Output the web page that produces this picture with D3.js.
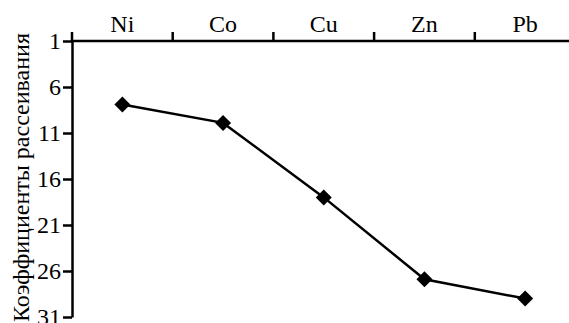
<!DOCTYPE html>
<html>
<head>
<meta charset="utf-8">
<script src="https://cdn.jsdelivr.net/npm/d3@7"></script>
<style>
  body { margin: 0; background: #fff; }
  svg text { font-family: "Liberation Serif", "Times New Roman", serif; fill: #000; }
  .axis path, .axis line { stroke: #000; stroke-width: 2.5; }
</style>
</head>
<body>
<div id="chart"></div>
<script>
// данные
var categories = ["Ni", "Co", "Cu", "Zn", "Pb"];
var values = [7.9, 9.9, 18, 26.9, 29];
var yTicks = [1, 6, 11, 16, 21, 26, 31];
var yTitle = "Коэффициенты рассеивания";

var width = 569, height = 323;
var margin = {top: 41, left: 72, bottom: 6};

var svg = d3.select("#chart").append("svg")
    .attr("width", width).attr("height", height);

var xs = d3.scaleBand().domain(categories).range([margin.left, 575.5]);
var ys = d3.scaleLinear().domain([1, 31]).range([margin.top, height - margin.bottom]);

// eixo X superior (rótulos)
var xAxis = svg.append("g").attr("class", "axis")
    .attr("transform", "translate(0," + margin.top + ")")
    .call(d3.axisTop(xs).tickSize(0).tickSizeOuter(0).tickPadding(9));
xAxis.selectAll("text").style("font-size", "24px");
xAxis.select(".domain").attr("d", "M" + margin.left + ",0H" + width);
// ticks nas fronteiras das categorias
xAxis.selectAll(".bnd").data(categories).enter().append("line")
    .attr("class", "bnd")
    .attr("x1", function(d){ return xs(d); })
    .attr("x2", function(d){ return xs(d); })
    .attr("y1", 0).attr("y2", -9);

// eixo Y
var yAxis = svg.append("g").attr("class", "axis")
    .attr("transform", "translate(" + margin.left + ",0)")
    .call(d3.axisLeft(ys).tickValues(yTicks).tickSize(9).tickSizeOuter(0).tickPadding(2));
yAxis.selectAll("text").style("font-size", "24px");

svg.append("text")
    .attr("transform", "translate(29,177.5) rotate(-90)")
    .attr("text-anchor", "middle")
    .attr("textLength", 289)
    .attr("lengthAdjust", "spacingAndGlyphs")
    .style("font-size", "24px")
    .text(yTitle);

var cx = function(d, i){ return xs(categories[i]) + xs.bandwidth() / 2; };

var line = d3.line()
    .x(function(d, i){ return cx(d, i); })
    .y(function(d){ return ys(d); });

svg.append("path")
    .datum(values)
    .attr("fill", "none")
    .attr("stroke", "#000")
    .attr("stroke-width", 2.5)
    .attr("d", line);

svg.selectAll(".dot").data(values).enter().append("path")
    .attr("class", "dot")
    .attr("d", d3.symbol().type(d3.symbolSquare).size(128))
    .attr("transform", function(d, i){
        return "translate(" + cx(d, i) + "," + ys(d) + ") rotate(45)";
    })
    .attr("fill", "#000");
</script>
</body>
</html>
